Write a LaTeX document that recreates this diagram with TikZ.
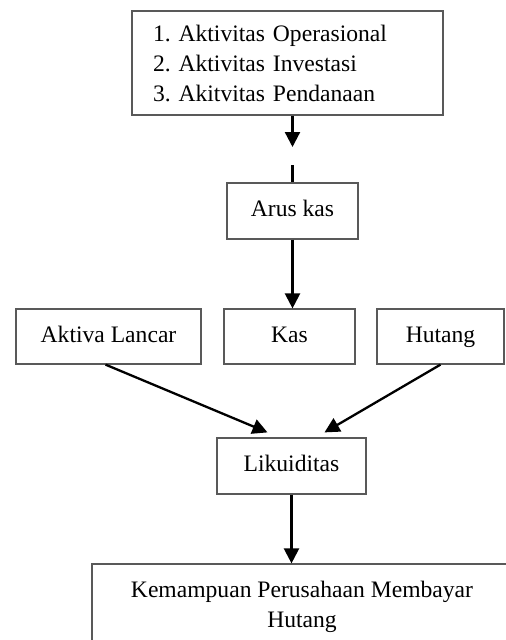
\documentclass[tikz,border=0pt]{standalone}
\usepackage{fontspec}
\setmainfont{Liberation Serif}
\usetikzlibrary{arrows.meta}
\begin{document}
\frenchspacing
\begin{tikzpicture}[x=1pt,y=-1pt,
  font=\fontsize{23.6}{30}\selectfont\frenchspacing,
  box/.style={draw=black!65, line width=1.2pt, inner sep=0pt, align=center},
  one/.style={text height=16pt, text depth=5pt},
  conn/.style={line width=2.3pt, -{Triangle[length=15pt,width=15pt]}},
  plain/.style={line width=2.3pt}]
\useasboundingbox (0,0) rectangle (506,640);
\clip (0,0) rectangle (506,640);
% nodes
\node[box, align=left, text width=269pt, inner xsep=21pt, minimum height=104pt] (top) at (287.5,63)
  {1. Aktivitas Operasional\\2. Aktivitas Investasi\\3. Akitvitas Pendanaan};
\node[box, one, minimum width=131pt, minimum height=56pt] (arus) at (292.5,211) {Arus kas};
\node[box, one, minimum width=185pt, minimum height=55pt] (al) at (108.5,336.5) {Aktiva Lancar};
\node[box, one, minimum width=131pt, minimum height=55pt] (kas) at (289.5,336.5) {Kas};
\node[box, one, minimum width=127pt, minimum height=55pt] (hut) at (440.5,336.5) {Hutang};
\node[box, one, minimum width=149pt, minimum height=56pt] (lik) at (291.5,466) {Likuiditas};
\node[box, minimum width=420pt, minimum height=86pt] (kem) at (302,607)
  {Kemampuan Perusahaan Membayar\\Hutang};
% gap coordinates
\coordinate (ga) at (292.5,147);
\coordinate (gb) at (292.5,165);
% connectors
\draw[conn] (top.south -| ga) -- (ga);
\draw[plain] (gb) -- (arus.north);
\draw[conn] (arus.south) -- (arus.south |- kas.north);
\draw[conn] ([xshift=-3pt]al.south) -- ([xshift=-24pt,yshift=5pt]lik.north);
\draw[conn] (hut.south) -- ([xshift=33pt,yshift=5pt]lik.north);
\draw[conn] (lik.south) -- (lik.south |- kem.north);
\end{tikzpicture}
\end{document}
